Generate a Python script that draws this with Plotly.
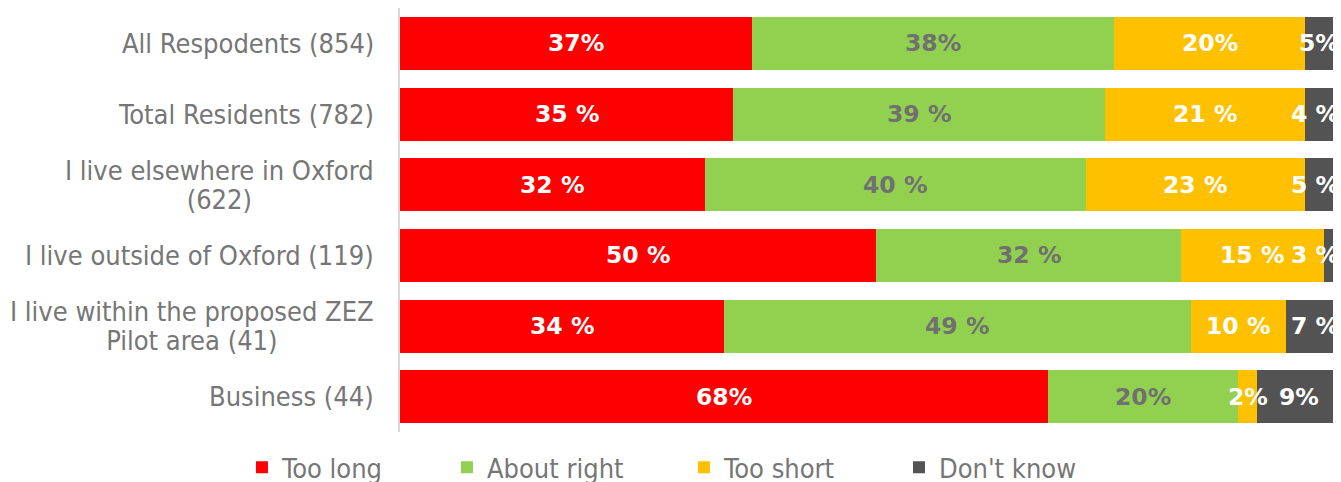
import plotly.graph_objects as go

categories = [
    "All Respodents (854)",
    "Total Residents (782)",
    "I live elsewhere in Oxford<br>(622)",
    "I live outside of Oxford (119)",
    "I live within the proposed ZEZ<br>Pilot area (41)",
    "Business (44)",
]
series_names = ["Too long", "About right", "Too short", "Don't know"]
too_long = [37, 35, 32, 50, 34, 68]
about_right = [38, 39, 40, 32, 49, 20]
too_short = [20, 21, 23, 15, 10, 2]
dont_know = [5, 4, 5, 3, 7, 9]
label_too_long = ["37%", "35 %", "32 %", "50 %", "34 %", "68%"]
label_about_right = ["38%", "39 %", "40 %", "32 %", "49 %", "20%"]
label_too_short = ["20%", "21 %", "23 %", "15 %", "10 %", "2%"]
label_dont_know = ["5%", "4 %", "5 %", "3 %", "7 %", "9%"]

# the picture is cropped slightly before the 100% mark
X_MAX = 98.8

colors = ["#FF0000", "#92D050", "#FFC000", "#535353"]
label_colors = ["white", "#707070", "white", "white"]
values = [too_long, about_right, too_short, dont_know]
labels = [label_too_long, label_about_right, label_too_short, label_dont_know]

FONT = "DejaVu Sans Condensed, DejaVu Sans, sans-serif"
BOLD = "DejaVu Sans, sans-serif"
GREY = "#767676"
CAT_SIZE = 27

fig = go.Figure()
legend_ids = ["legend", "legend2", "legend3", "legend4"]
for i, name in enumerate(series_names):
    fig.add_trace(go.Bar(
        y=categories, x=values[i], name=name, orientation="h",
        marker=dict(color=colors[i], line=dict(width=0)),
        legend=legend_ids[i], hoverinfo="x+name",
    ))

annotations = []
# bar value labels, centred on the visible part of each segment
for r, cat in enumerate(categories):
    cum = 0
    for i in range(len(series_names)):
        v = values[i][r]
        end = min(cum + v, X_MAX)
        center = (cum + end) / 2
        if i == len(series_names) - 1 and v < 8:
            x, anchor = X_MAX, "right"
        else:
            x, anchor = center, "center"
        annotations.append(dict(
            x=x, y=cat, xref="x", yref="y", text="<b>" + labels[i][r] + "</b>",
            showarrow=False, xanchor=anchor,
            font=dict(family=BOLD, size=23.5, color=label_colors[i]),
        ))
        cum += v

# category labels (centred multi-line blocks, tighter line spacing)
HIDE = "rgba(0,0,0,0)"
for cat in categories:
    lines = cat.split("<br>")
    n = len(lines)
    shift = (1.3 * CAT_SIZE - 29) / 2 if n > 1 else 0
    for k in range(n):
        parts = []
        for j, ln in enumerate(lines):
            if j == k:
                parts.append(ln)
            else:
                parts.append('<span style="color:%s">%s</span>' % (HIDE, ln))
        yshift = 0 if n == 1 else -shift * ((n - 1) / 2 - k) * 2 / max(n - 1, 1)
        annotations.append(dict(
            x=0, y=cat, xref="paper", yref="y", text="<br>".join(parts),
            showarrow=False, xanchor="right", align="center", xshift=-24,
            yshift=yshift,
            font=dict(family=FONT, size=CAT_SIZE, color=GREY),
        ))

legend_x = [0.1755, 0.3293, 0.5071, 0.6684]
legend_common = dict(orientation="h", yanchor="middle", y=0.03, xanchor="left",
                     xref="container", yref="container",
                     font=dict(family=FONT, size=27, color=GREY),
                     bgcolor="rgba(0,0,0,0)", itemwidth=30)
layout_legends = {}
for lid, lx in zip(legend_ids, legend_x):
    layout_legends[lid] = dict(legend_common, x=lx)

fig.update_layout(
    barmode="stack",
    bargap=0.25,
    showlegend=True,
    width=1333, height=474,
    margin=dict(l=392, r=0, t=0, b=50, autoexpand=False),
    plot_bgcolor="white", paper_bgcolor="white",
    annotations=annotations,
    **layout_legends,
)
fig.update_xaxes(range=[0, X_MAX], visible=False, showgrid=False)
fig.update_yaxes(
    autorange="reversed", showgrid=False, showline=True, linecolor="#D9D9D9",
    linewidth=2, ticks="", showticklabels=False,
)

fig.write_html("out.html")
